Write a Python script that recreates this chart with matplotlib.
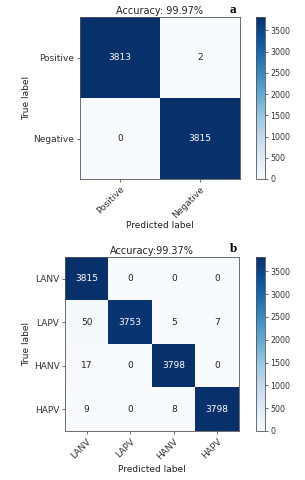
import numpy as np
import matplotlib
matplotlib.use("Agg")
import matplotlib.pyplot as plt

# Data
labels_a = ["Positive", "Negative"]
cm_a = [[3813, 2],
        [0, 3815]]
title_a = "Accuracy: 99.97%"

labels_b = ["LANV", "LAPV", "HANV", "HAPV"]
cm_b = [[3815, 0, 0, 0],
        [50, 3753, 5, 7],
        [17, 0, 3798, 0],
        [9, 0, 8, 3798]]
title_b = "Accuracy:99.37%"

cbar_ticks = [0, 500, 1000, 1500, 2000, 2500, 3000, 3500]

W, H = 305, 480
fig = plt.figure(figsize=(W / 100, H / 100), dpi=100)
fig.patch.set_facecolor("white")


def box(l, t, r, b):
    return [l / W, 1 - b / H, (r - l) / W, (b - t) / H]


def draw(ax_rect, cax_rect, cm, labels, title, letter, letter_xy, xlabelpad):
    cm = np.array(cm)
    ax = fig.add_axes(ax_rect)
    cax = fig.add_axes(cax_rect)
    im = ax.imshow(cm, interpolation="nearest", cmap="Blues", aspect="auto")
    cb = fig.colorbar(im, cax=cax, ticks=cbar_ticks)
    cb.ax.tick_params(labelsize=5.7, length=2.5, width=0.5, pad=1.5, colors="#333333")
    cb.outline.set_linewidth(0.6)
    cb.outline.set_edgecolor("#555555")
    n = len(labels)
    ax.set_xticks(range(n))
    ax.set_yticks(range(n))
    ax.set_xticklabels(labels, rotation=45, ha="right", rotation_mode="anchor", fontsize=6.5)
    ax.set_yticklabels(labels, fontsize=6.5)
    ax.tick_params(length=2.5, width=0.5, pad=1.5, colors="#333333")
    for s in ax.spines.values():
        s.set_linewidth(0.6)
        s.set_edgecolor("#555555")
    thresh = cm.max() / 2.0
    for i in range(n):
        for j in range(n):
            ax.text(j, i, format(cm[i, j], "d"), ha="center", va="center", fontsize=6.5,
                    color="white" if cm[i, j] > thresh else "#222222")
    ax.set_title(title, fontsize=7, pad=2, color="#222222")
    ax.set_ylabel("True label", fontsize=6.5, labelpad=2, color="#222222")
    ax.set_xlabel("Predicted label", fontsize=6.5, labelpad=xlabelpad, color="#222222")
    fig.text(letter_xy[0] / W, 1 - letter_xy[1] / H, letter, fontsize=9.5, fontweight="bold",
             family=["Liberation Serif", "DejaVu Serif"], ha="center", va="center")
    return ax


draw(box(80, 17, 240, 179), box(256, 17, 265, 179), cm_a, labels_a, title_a, "a", (233, 10), 1)
draw(box(65, 257, 239, 431), box(256, 257, 265, 431), cm_b, labels_b, title_b, "b", (233, 249), 2.5)

fig.savefig("out.png", dpi=100)
